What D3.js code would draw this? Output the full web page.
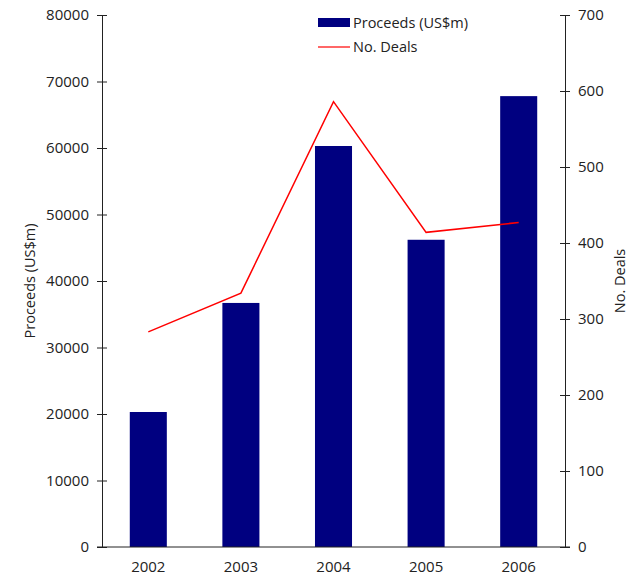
<!DOCTYPE html>
<html>
<head>
<meta charset="utf-8">
<script src="https://cdn.jsdelivr.net/npm/d3@7"></script>
<style>
  body { margin: 0; background: #fff; }
  text { font-family: "Open Sans", "Noto Sans", sans-serif; fill: #222; }
</style>
</head>
<body>
<svg id="chart" width="641" height="581"></svg>
<script>
var years    = ["2002", "2003", "2004", "2005", "2006"]
var proceeds = [20300, 36700, 60300, 46200, 67800]
var deals    = [283, 334, 586, 414, 427]
var leftTicks  = [0, 10000, 20000, 30000, 40000, 50000, 60000, 70000, 80000]
var rightTicks = [0, 100, 200, 300, 400, 500, 600, 700]

var data = years.map((y, i) => ({year: y, proceeds: proceeds[i], deals: deals[i]}))

var svg = d3.select("#chart"),
	margin = {top: 15, left: 102, bottom: 34, right: 76},
	width = +svg.attr("width"),
	height = +svg.attr("height");

var x = d3.scaleBand()
	.domain(years)
	.range([margin.left, width - margin.right])
	.paddingInner(0.6)
	.paddingOuter(0.3)

var y = d3.scaleLinear()
	.domain([0, 80000])
	.range([height - margin.bottom, margin.top])

var y2 = d3.scaleLinear()
	.domain([0, 700])
	.range([height - margin.bottom, margin.top])

svg.selectAll("rect.bar")
	.data(data)
	.enter().append("rect")
	.attr("class", "bar")
	.attr("fill", "#000080")
	.attr("x", d => x(d.year))
	.attr("width", x.bandwidth())
	.attr("y", d => y(d.proceeds))
	.attr("height", d => y(0) - y(d.proceeds))

var line = d3.line()
	.x(d => x(d.year) + x.bandwidth() / 2)
	.y(d => y2(d.deals))

svg.append("path")
	.datum(data)
	.attr("fill", "none")
	.attr("stroke", "#ff0000")
	.attr("stroke-width", 1.5)
	.attr("d", line)

// axes
var yAxis = svg.append("g")
	.attr("transform", `translate(${margin.left},0)`)
	.call(d3.axisLeft(y).tickValues(leftTicks).tickFormat(d3.format("d"))
		.tickSize(5).tickSizeOuter(0).tickPadding(8))
yAxis.selectAll(".tick line").attr("x2", 5).attr("x1", -5)

var y2Axis = svg.append("g")
	.attr("transform", `translate(${width - margin.right},0)`)
	.call(d3.axisRight(y2).tickValues(rightTicks).tickFormat(d3.format("d"))
		.tickSize(5).tickSizeOuter(0).tickPadding(8))
y2Axis.selectAll(".tick line").attr("x1", -5).attr("x2", 5)

var xAxis = svg.append("g")
	.attr("transform", `translate(0,${height - margin.bottom})`)
	.call(d3.axisBottom(x).tickSize(0).tickSizeOuter(0).tickPadding(14))
xAxis.select(".domain").attr("d", `M${margin.left - 5},0H${width - margin.right + 5}`)

svg.selectAll(".domain").attr("stroke", "#222")
svg.selectAll(".tick line").attr("stroke", "#222")
svg.selectAll(".tick text").attr("font-size", 15).attr("fill", "#222")
	.style("font-family", '"Open Sans", "Noto Sans", sans-serif')

// axis titles
svg.append("text")
	.attr("transform", `translate(35,${(margin.top + height - margin.bottom) / 2}) rotate(-90)`)
	.attr("text-anchor", "middle")
	.attr("font-size", 14.5)
	.text("Proceeds (US$m)")

svg.append("text")
	.attr("transform", `translate(625,${(margin.top + height - margin.bottom) / 2}) rotate(-90)`)
	.attr("text-anchor", "middle")
	.attr("font-size", 14.5)
	.text("No. Deals")

// legend
var legend = svg.append("g").attr("transform", "translate(318,0)")
legend.append("rect")
	.attr("x", 0).attr("y", 18).attr("width", 32).attr("height", 9)
	.attr("fill", "#000080")
legend.append("text")
	.attr("x", 35).attr("y", 28).attr("font-size", 14.5)
	.text("Proceeds (US$m)")
legend.append("line")
	.attr("x1", 0).attr("x2", 32).attr("y1", 47).attr("y2", 47)
	.attr("stroke", "#ff0000").attr("stroke-width", 1.2)
legend.append("text")
	.attr("x", 35).attr("y", 52).attr("font-size", 14.5)
	.text("No. Deals")
</script>
</body>
</html>
